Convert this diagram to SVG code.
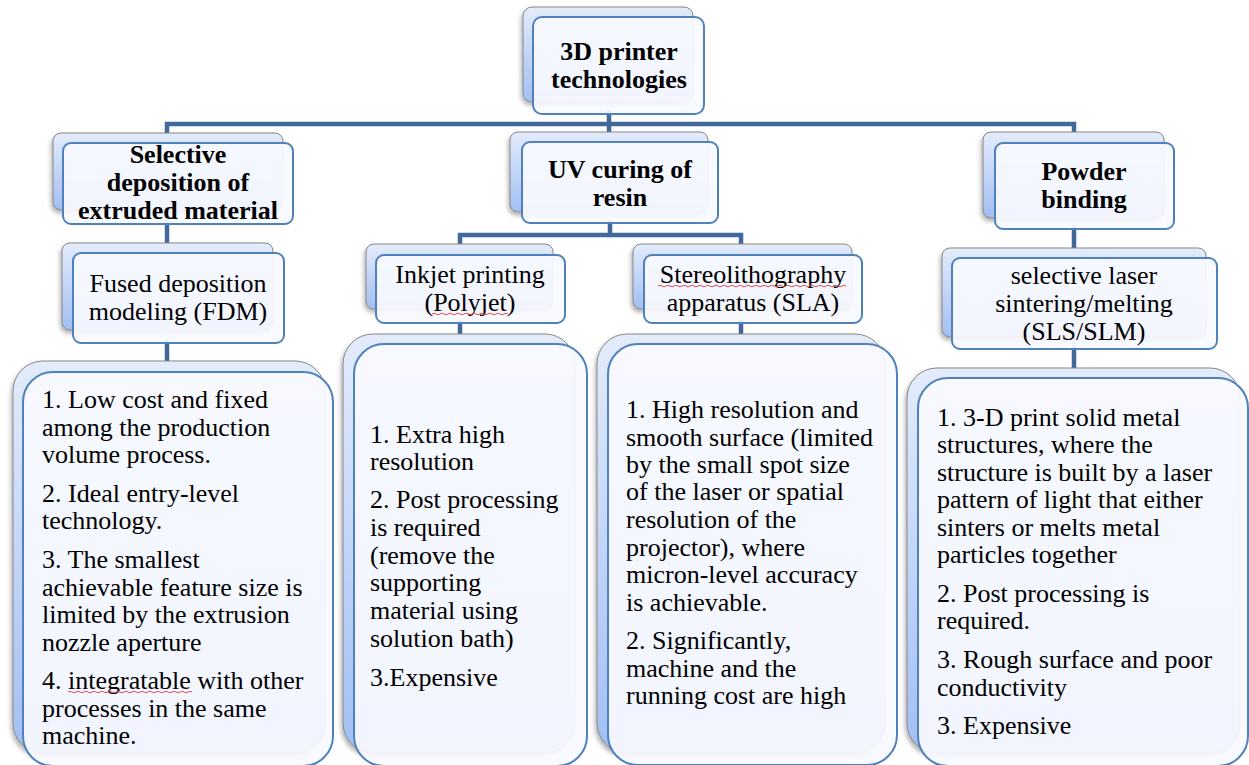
<svg xmlns="http://www.w3.org/2000/svg" width="1249" height="765" viewBox="0 0 1249 765">
<defs>
<linearGradient id="bg" x1="0" y1="0" x2="0" y2="1">
<stop offset="0" stop-color="#e4ecfb"/>
<stop offset="1" stop-color="#a2bef3"/>
</linearGradient>
<filter id="sh" x="-10%" y="-10%" width="120%" height="125%">
<feDropShadow dx="-1.5" dy="3" stdDeviation="2" flood-color="#000" flood-opacity="0.3"/>
</filter>
<style>
.back { fill: url(#bg); stroke: #858585; stroke-width: 1; filter: url(#sh); }
.front { fill: #f8faff; fill-opacity: 0.92; stroke: #4f81bd; stroke-width: 2; }
.t { font-family: "Liberation Serif", "Times New Roman", serif; font-size: 26px; fill: #000; }
.b { font-weight: bold; text-anchor: middle; }
.c { text-anchor: middle; }
.conn { fill: none; stroke: #41699b; stroke-width: 4.5; stroke-linejoin: miter; }
.spell { fill: none; stroke: #e05050; stroke-width: 1; }
</style>
</defs>
<rect width="1249" height="765" fill="#ffffff"/>

<g id="connectors">
<path class="conn" d="M609,110 V124 M167,150 V124 H1074 V150 M609,124 V150"/>
<path class="conn" d="M167,220 V258"/>
<path class="conn" d="M167,340 V376"/>
<path class="conn" d="M610,220 V235 M460,260 V235 H741 V260"/>
<path class="conn" d="M460,320 V348"/>
<path class="conn" d="M741,320 V348"/>
<path class="conn" d="M1074,225 V262"/>
<path class="conn" d="M1074,345 V382"/>
</g>

<g id="root">
<rect class="back" x="523" y="7" width="170" height="95" rx="9"/>
<rect class="front" x="533" y="17" width="171" height="97" rx="9"/>
<text class="t b"><tspan x="619" y="60">3D printer</tspan><tspan x="619" y="88">technologies</tspan></text>
</g>

<g id="selective">
<rect class="back" x="53" y="133" width="230" height="77" rx="8"/>
<rect class="front" x="63" y="143" width="230" height="81" rx="8"/>
<text class="t b"><tspan x="178" y="163">Selective</tspan><tspan x="178" y="191">deposition of</tspan><tspan x="178" y="219">extruded material</tspan></text>
</g>

<g id="uv">
<rect class="back" x="510" y="132" width="198" height="80" rx="8"/>
<rect class="front" x="522" y="142" width="196" height="81" rx="8"/>
<text class="t b"><tspan x="620" y="178">UV curing of</tspan><tspan x="620" y="206">resin</tspan></text>
</g>

<g id="powder">
<rect class="back" x="983" y="132" width="181" height="86" rx="8"/>
<rect class="front" x="995" y="143" width="179" height="86" rx="8"/>
<text class="t b"><tspan x="1084" y="180">Powder</tspan><tspan x="1084" y="208">binding</tspan></text>
</g>

<g id="fdm">
<rect class="back" x="62" y="243" width="211" height="87" rx="8"/>
<rect class="front" x="73" y="253" width="211" height="90" rx="8"/>
<text class="t c"><tspan x="178" y="292">Fused deposition</tspan><tspan x="178" y="320">modeling (FDM)</tspan></text>
</g>

<g id="inkjet">
<rect class="back" x="366" y="244" width="187" height="65" rx="8"/>
<rect class="front" x="376" y="255" width="189" height="68" rx="8"/>
<text class="t c"><tspan x="470" y="283">Inkjet printing</tspan><tspan x="470" y="311">(Polyjet)</tspan></text>
<path class="spell" d="M432,314 q2,-1.5 4,0 t4,0 t4,0 t4,0 t4,0 t4,0 t4,0 t4,0 t4,0 t4,0 t4,0 t4,0 t4,0 t4,0 t4,0 t4,0 t4,0 t4,0 t4,0"/>
</g>

<g id="sla">
<rect class="back" x="633" y="244" width="219" height="65" rx="8"/>
<rect class="front" x="644" y="255" width="218" height="68" rx="8"/>
<text class="t c"><tspan x="753" y="283">Stereolithography</tspan><tspan x="753" y="311">apparatus (SLA)</tspan></text>
<path class="spell" d="M658,286 q2,-1.5 4,0 t4,0 t4,0 t4,0 t4,0 t4,0 t4,0 t4,0 t4,0 t4,0 t4,0 t4,0 t4,0 t4,0 t4,0 t4,0 t4,0 t4,0 t4,0 t4,0 t4,0 t4,0 t4,0 t4,0 t4,0 t4,0 t4,0 t4,0 t4,0 t4,0 t4,0 t4,0 t4,0 t4,0 t4,0 t4,0 t4,0 t4,0 t4,0 t4,0 t4,0 t4,0 t4,0 t4,0 t4,0 t4,0 t4,0"/>
</g>

<g id="sls">
<rect class="back" x="942" y="248" width="264" height="89" rx="8"/>
<rect class="front" x="952" y="258" width="265" height="91" rx="8"/>
<text class="t c"><tspan x="1084" y="284">selective laser</tspan><tspan x="1084" y="312">sintering/melting</tspan><tspan x="1084" y="340">(SLS/SLM)</tspan></text>
</g>

<g id="fdm-details">
<rect class="back" x="13" y="361" width="312" height="392" rx="30"/>
<rect class="front" x="23" y="372" width="310" height="394" rx="30"/>
<text class="t">
<tspan x="42" y="408">1. Low cost and fixed</tspan>
<tspan x="42" y="436">among the production</tspan>
<tspan x="42" y="463">volume process.</tspan>
<tspan x="42" y="502">2. Ideal entry-level</tspan>
<tspan x="42" y="529">technology.</tspan>
<tspan x="42" y="568">3. The smallest</tspan>
<tspan x="42" y="596">achievable feature size is</tspan>
<tspan x="42" y="623">limited by the extrusion</tspan>
<tspan x="42" y="651">nozzle aperture</tspan>
<tspan x="42" y="689">4. integratable with other</tspan>
<tspan x="42" y="717">processes in the same</tspan>
<tspan x="42" y="744">machine.</tspan>
</text>
<path class="spell" d="M68,692 q2,-1.5 4,0 t4,0 t4,0 t4,0 t4,0 t4,0 t4,0 t4,0 t4,0 t4,0 t4,0 t4,0 t4,0 t4,0 t4,0 t4,0 t4,0 t4,0 t4,0 t4,0 t4,0 t4,0 t4,0 t4,0 t4,0 t4,0 t4,0 t4,0 t4,0 t4,0 t4,0"/>
</g>

<g id="inkjet-details">
<rect class="back" x="343" y="334" width="232" height="419" rx="30"/>
<rect class="front" x="354" y="344" width="233" height="422" rx="30"/>
<text class="t">
<tspan x="370" y="443">1. Extra high</tspan>
<tspan x="370" y="470">resolution</tspan>
<tspan x="370" y="508">2. Post processing</tspan>
<tspan x="370" y="536">is required</tspan>
<tspan x="370" y="564">(remove the</tspan>
<tspan x="370" y="591">supporting</tspan>
<tspan x="370" y="619">material using</tspan>
<tspan x="370" y="647">solution bath)</tspan>
<tspan x="370" y="686">3.Expensive</tspan>
</text>
</g>

<g id="sla-details">
<rect class="back" x="597" y="334" width="288" height="419" rx="30"/>
<rect class="front" x="608" y="344" width="289" height="421" rx="30"/>
<text class="t">
<tspan x="626" y="418">1. High resolution and</tspan>
<tspan x="626" y="446">smooth surface (limited</tspan>
<tspan x="626" y="473">by the small spot size</tspan>
<tspan x="626" y="500">of the laser or spatial</tspan>
<tspan x="626" y="528">resolution of the</tspan>
<tspan x="626" y="556">projector), where</tspan>
<tspan x="626" y="583">micron-level accuracy</tspan>
<tspan x="626" y="611">is achievable.</tspan>
<tspan x="626" y="649">2. Significantly,</tspan>
<tspan x="626" y="677">machine and the</tspan>
<tspan x="626" y="704">running cost are high</tspan>
</text>
</g>

<g id="sls-details">
<rect class="back" x="907" y="368" width="333" height="385" rx="30"/>
<rect class="front" x="918" y="378" width="330" height="388" rx="30"/>
<text class="t">
<tspan x="937" y="426">1. 3-D print solid metal</tspan>
<tspan x="937" y="453">structures, where the</tspan>
<tspan x="937" y="481">structure is built by a laser</tspan>
<tspan x="937" y="508">pattern of light that either</tspan>
<tspan x="937" y="536">sinters or melts metal</tspan>
<tspan x="937" y="563">particles together</tspan>
<tspan x="937" y="602">2. Post processing is</tspan>
<tspan x="937" y="629">required.</tspan>
<tspan x="937" y="668">3. Rough surface and poor</tspan>
<tspan x="937" y="696">conductivity</tspan>
<tspan x="937" y="734">3. Expensive</tspan>
</text>
</g>
</svg>
